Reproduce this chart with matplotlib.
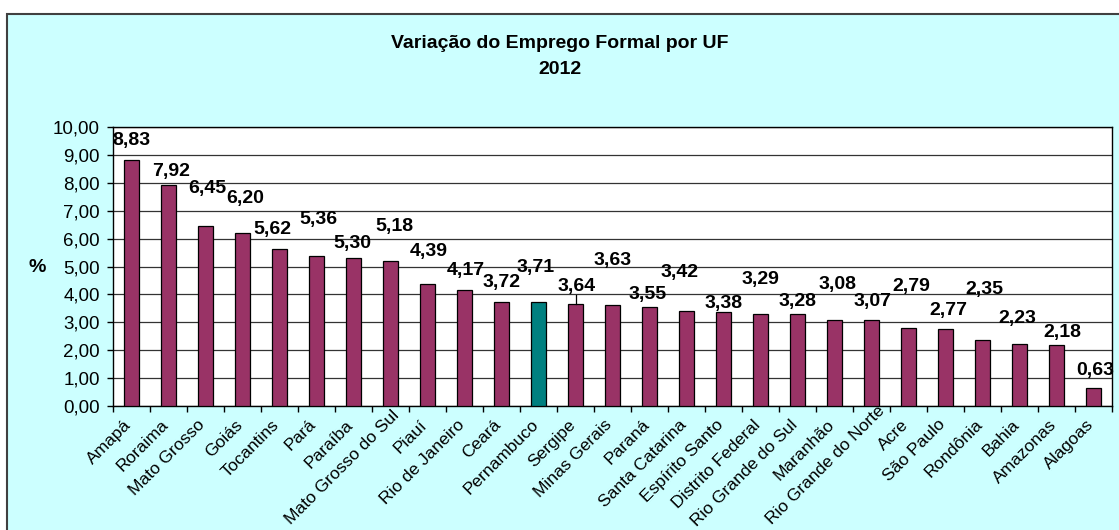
import matplotlib
matplotlib.use('Agg')
import matplotlib.pyplot as plt
from matplotlib.patches import Rectangle
from matplotlib.transforms import ScaledTranslation
from matplotlib.textpath import TextPath
from matplotlib.font_manager import FontProperties
import numpy as np

plt.rcParams['font.family'] = ['Liberation Sans', 'DejaVu Sans']

# dados
ufs = ['Amapá', 'Roraima', 'Mato Grosso', 'Goiás', 'Tocantins', 'Pará', 'Paraíba',
       'Mato Grosso do Sul', 'Piauí', 'Rio de Janeiro', 'Ceará', 'Pernambuco', 'Sergipe',
       'Minas Gerais', 'Paraná', 'Santa Catarina', 'Espírito Santo', 'Distrito Federal',
       'Rio Grande do Sul', 'Maranhão', 'Rio Grande do Norte', 'Acre', 'São Paulo',
       'Rondônia', 'Bahia', 'Amazonas', 'Alagoas']
variacao = [8.83, 7.92, 6.45, 6.20, 5.62, 5.36, 5.30, 5.18, 4.39, 4.17, 3.72, 3.71, 3.64,
            3.63, 3.55, 3.42, 3.38, 3.29, 3.28, 3.08, 3.07, 2.79, 2.77, 2.35, 2.23, 2.18, 0.63]
destaque = 'Pernambuco'

# onde ficaram os rotulos no grafico original (desencontrados)
rot_dx = [0.0, 0.07, 0.04, 0.07, -0.20, 0.04, -0.04, 0.11, 0.04, 0.04, 0.01, -0.09, 0.04,
          0.01, -0.04, -0.18, -0.01, 0.01, -0.01, 0.09, 0.04, 0.07, 0.07, 0.04, -0.07, 0.15, 0.04]
rot_y = [9.53, 8.39, 7.81, 7.42, 6.34, 6.67, 5.84, 6.42, 5.52, 4.84, 4.41, 4.98, 4.30,
         5.20, 3.98, 4.80, 3.69, 4.55, 3.73, 4.34, 3.76, 4.27, 3.44, 4.16, 3.12, 2.62, 1.29]
com_linha = [12]

TAM_UF = 12.5
LMAX = 101.5  # nomes maiores que isso (pt) comecam no mesmo ponto, como no Excel

fig = plt.figure(figsize=(11.19, 5.30), dpi=100)
fig.patch.set_facecolor('white')

fundo = Rectangle((7 / 1119, -0.05), 1.2, 1 - 14 / 530 + 0.05, transform=fig.transFigure,
                  facecolor='#CCFFFF', edgecolor='#404040', lw=1.5, zorder=-5)
fig.patches.append(fundo)

ax = fig.add_axes([113 / 1119, 1 - 406 / 530, (1112 - 113) / 1119, (406 - 127) / 530])
ax.set_zorder(2)
ax.set_facecolor('white')

x = np.arange(len(ufs))
cores = ['#008080' if u == destaque else '#993366' for u in ufs]
ax.bar(x, variacao, width=0.4, color=cores, edgecolor='black', linewidth=0.9, zorder=3)

for i, v in enumerate(variacao):
    ax.text(i + rot_dx[i], rot_y[i], f'{v:.2f}'.replace('.', ','), ha='center', va='center',
            fontsize=14, fontweight='bold', zorder=5)
for i in com_linha:
    ax.plot([i, i], [rot_y[i] - 0.33, variacao[i] + 0.02], color='black', lw=0.9, zorder=4)

ax.set_xlim(-0.5, len(ufs) - 0.5)
ax.set_ylim(0, 10)
ax.set_yticks(np.arange(0, 11, 1))
ax.set_yticklabels([f'{v:.2f}'.replace('.', ',') for v in np.arange(0, 11, 1)], fontsize=13.5)
ax.yaxis.grid(True, color='#333333', lw=0.9)
ax.set_axisbelow(True)

ax.set_xticks(np.arange(-0.5, len(ufs), 1))
ax.set_xticklabels([])
ax.tick_params(axis='x', length=4, width=1, direction='out')
ax.tick_params(axis='y', length=4.5, width=1, direction='out', pad=5)
for s in ax.spines.values():
    s.set_color('black')
    s.set_linewidth(1)

# nomes das UFs a 45 graus
fp = FontProperties(family='Liberation Sans', size=TAM_UF)
c45 = np.cos(np.pi / 4)
desloc = ax.get_xaxis_transform() + ScaledTranslation(-0.08, -0.11, fig.dpi_scale_trans)
for i, uf in enumerate(ufs):
    larg = TextPath((0, 0), uf, prop=fp).get_extents().width
    if larg <= LMAX:
        ax.text(i, 0, uf, transform=desloc, rotation=45, ha='right', va='top',
                rotation_mode='anchor', fontsize=TAM_UF, clip_on=False)
    else:
        inicio = desloc + ScaledTranslation(-LMAX * c45 / 72, -LMAX * c45 / 72,
                                            fig.dpi_scale_trans)
        ax.text(i, 0, uf, transform=inicio, rotation=45, ha='left', va='top',
                rotation_mode='anchor', fontsize=TAM_UF, clip_on=False)

fig.text(560 / 1119, 1 - 43 / 530, 'Variação do Emprego Formal por UF', ha='center',
         va='center', fontsize=14, fontweight='bold')
fig.text(560 / 1119, 1 - 70 / 530, '2012', ha='center', va='center', fontsize=14,
         fontweight='bold')
fig.text(37 / 1119, 1 - 268 / 530, '%', ha='center', va='center', fontsize=14,
         fontweight='bold')

fig.savefig('out.png', dpi=100)
